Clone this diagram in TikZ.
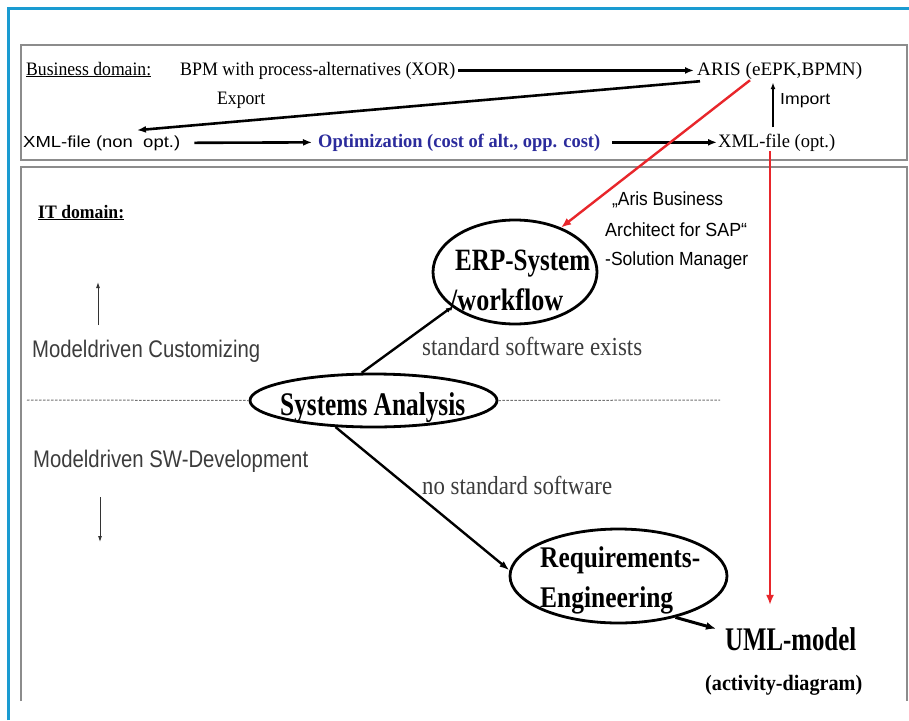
\documentclass[tikz,border=0pt]{standalone}
\usepackage{fontspec}
\setmainfont{Liberation Serif}
\setsansfont{Liberation Sans}
\usetikzlibrary{arrows.meta,shapes.geometric}
\definecolor{frameblue}{HTML}{1A9BD1}
\definecolor{boxgray}{HTML}{8C8C8C}
\definecolor{optblue}{HTML}{2B2B9C}
\definecolor{softtext}{HTML}{3C3C3C}
\definecolor{linkred}{HTML}{E8262B}
% set a text at a given font size and squeeze it to a given width
\newcommand\fitw[3]{\resizebox{#1pt}{\height}{\fontsize{#2}{#2}\selectfont #3}}
\begin{document}
\begin{tikzpicture}[x=1pt,y=-1pt,
  txt/.style={inner sep=0pt, anchor=base west},
  oval/.style={draw, ellipse, line width=2.8pt, inner sep=0pt},
  heavy/.style={line width=2.6pt, -{Latex[length=9pt,width=7pt]}},
  thin/.style={line width=0.9pt, draw=black!80, -{Latex[length=6pt,width=4pt]}},
  flow/.style={line width=2.4pt, -{Latex[length=10pt,width=7pt]}},
  redlink/.style={line width=2.4pt, draw=linkred, -{Latex[length=10pt,width=8pt]}},
  sep/.style={line width=1pt, draw=black!55, dash pattern=on 2.5pt off 1.5pt},
  panel/.style={line width=1.8pt, draw=boxgray}]
\useasboundingbox (0,0) rectangle (909,720);
\fill[white] (0,0) rectangle (909,720);

% outer frame
\draw[line width=3pt, draw=frameblue] (8.5,720) -- (8.5,8) -- (909,8);

% the two panels
\draw[panel] (21,45) rectangle (907,160);
\draw[panel] (21,701) -- (21,167) -- (907,167) -- (907,701);

% business domain row
\node[txt] (bd)   at (26,75)   {\fitw{125}{19}{\underline{Business domain:}}};
\node[txt] (bpm)  at (180,75)  {\fitw{275}{19}{BPM with process-alternatives (XOR)}};
\node[txt] (aris) at (697,75)  {\fitw{165}{19}{ARIS (eEPK,BPMN)}};
\node[txt] (xmlnon) at (23,147) {\fitw{157}{16}{\sffamily XML-file (non\ \ opt.)}};
\node[txt, text=optblue] (opt) at (318,147) {\fitw{282}{19}{\bfseries Optimization (cost of alt., opp. cost)}};
\node[txt] (xmlopt) at (718,147) {\fitw{117}{19}{XML-file (opt.)}};
\node[txt] (export) at (217,104) {\fitw{48}{19}{Export}};
\node[txt] (import) at (780,104) {\fitw{50}{16}{\sffamily Import}};

\draw[heavy, shorten <=3pt, shorten >=3pt] (bpm.east) -- (aris.west);
\draw[heavy, shorten <=14pt, shorten >=6pt] (xmlnon.east) -- (opt.west);
\draw[heavy, shorten <=12pt, shorten >=1pt] (opt.east) -- (xmlopt.west);
\draw[heavy] ([xshift=3pt,yshift=-2pt]aris.south west) -- ([xshift=114pt,yshift=5pt]xmlnon.north west);
\coordinate (ix) at (773,0);
\draw[line width=1.6pt, -{Latex[length=7pt,width=5pt]}] ([yshift=6pt]xmlopt.north -| ix) -- ([yshift=-3pt]aris.south -| ix);

% IT domain
\node[txt] (itd) at (38,218) {\fitw{86}{19}{\bfseries\underline{IT domain:}}};
\node[txt, text=softtext] (mdc)  at (32,357) {\fitw{228}{24}{\sffamily Modeldriven Customizing}};
\node[txt, text=softtext] (mdsw) at (33,467) {\fitw{275}{24}{\sffamily Modeldriven SW-Development}};
\coordinate (up1) at (98,325);
\coordinate (up2) at (98,282);
\coordinate (dn1) at (100,497);
\coordinate (dn2) at (100,542);
\draw[thin] (up1) -- (up2);
\draw[thin] (dn1) -- (dn2);

% ovals
\node[oval, minimum width=247pt, minimum height=53pt] (sa)  at (373.5,400.5) {};
\node[oval, minimum width=164pt, minimum height=104pt] (erp) at (515,272) {};
\node[oval, minimum width=217pt, minimum height=94pt] (req) at (618.5,576) {};

\node[txt] (satext) at (280,415) {\fitw{185}{33}{\bfseries Systems Analysis}};
\node[txt] (erp1) at (455,270) {\fitw{135}{31}{\bfseries ERP-System}};
\node[txt] (erp2) at (450,310) {\fitw{113}{31}{\bfseries /workflow}};
\node[txt] (req1) at (540,567) {\fitw{160}{30}{\bfseries Requirements-}};
\node[txt] (req2) at (540,607) {\fitw{133}{30}{\bfseries Engineering}};
\node[txt] (uml)  at (725,650) {\fitw{131}{33}{\bfseries UML-model}};
\node[txt] (act)  at (705,690) {\fitw{157}{22}{\bfseries (activity-diagram)}};

\node[txt, text=softtext] (std)   at (422,355) {\fitw{220}{26}{standard software exists}};
\node[txt, text=softtext] (nostd) at (422,494) {\fitw{190}{26}{no standard software}};

\node[txt] (ab1) at (612,205) {\fitw{111}{19}{\sffamily „Aris Business}};
\node[txt] (ab2) at (605,236) {\fitw{142}{19}{\sffamily Architect for SAP“}};
\node[txt] (ab3) at (605,265) {\fitw{143}{19}{\sffamily -Solution Manager}};

% separator between customizing and development
\coordinate (dl) at (27,400);
\coordinate (dr) at (720,400);
\draw[sep] (dl) -- (sa.west);
\draw[sep] (sa.east) -- (dr);

% connectors between the ovals
\draw[flow, -{Latex[length=6pt,width=5pt]}] (sa.113) -- (erp.209);
\draw[flow] (sa.215) -- (req.177);
\draw[line width=3pt, -{Latex[length=10pt,width=8pt]}] (req.324) -- ([xshift=-9pt,yshift=10pt]uml.west);

% red links from the business domain
\draw[redlink] ([xshift=53pt,yshift=-1pt]aris.south west) -- (erp.44);
\coordinate (rx) at (770,0);
\draw[redlink, line width=2pt] (xmlopt.south -| rx) -- ([yshift=22pt]uml.north -| rx);
\end{tikzpicture}
\end{document}
